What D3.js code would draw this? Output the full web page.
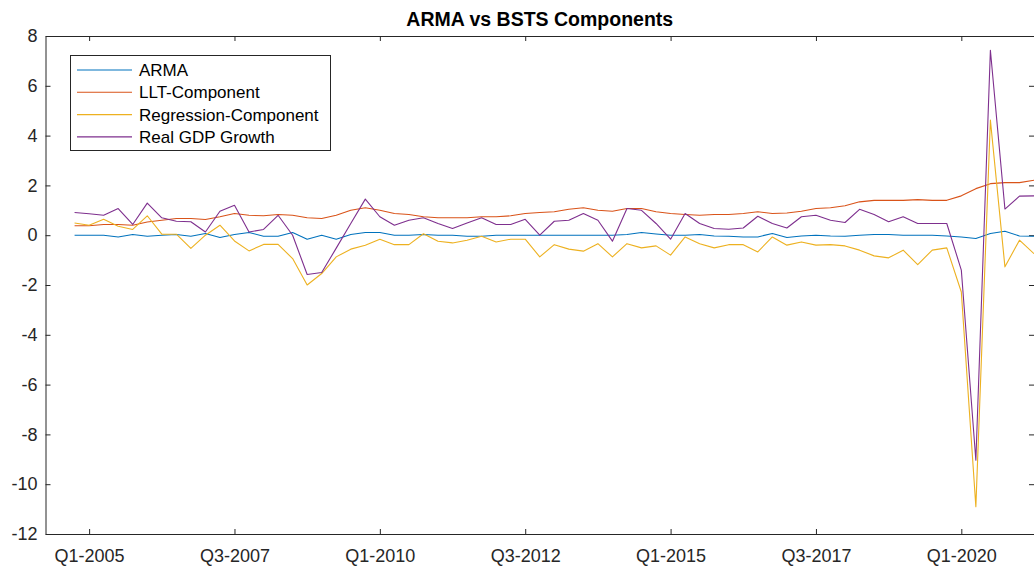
<!DOCTYPE html>
<html><head><meta charset="utf-8">
<script src="https://cdn.jsdelivr.net/npm/d3@7"></script>
<style>
html,body{margin:0;padding:0;background:#fff;}
svg{display:block;font-family:"Liberation Sans",Arial,Helvetica,sans-serif;}
</style></head>
<body><svg id="chart" width="1034" height="566"></svg>
<script>
// Quarters from Q4-2004 to Q2-2021 (index -1 .. 65 relative to Q1-2005)
const quarters = ["Q4-2004",
"Q1-2005","Q2-2005","Q3-2005","Q4-2005","Q1-2006","Q2-2006","Q3-2006","Q4-2006",
"Q1-2007","Q2-2007","Q3-2007","Q4-2007","Q1-2008","Q2-2008","Q3-2008","Q4-2008",
"Q1-2009","Q2-2009","Q3-2009","Q4-2009","Q1-2010","Q2-2010","Q3-2010","Q4-2010",
"Q1-2011","Q2-2011","Q3-2011","Q4-2011","Q1-2012","Q2-2012","Q3-2012","Q4-2012",
"Q1-2013","Q2-2013","Q3-2013","Q4-2013","Q1-2014","Q2-2014","Q3-2014","Q4-2014",
"Q1-2015","Q2-2015","Q3-2015","Q4-2015","Q1-2016","Q2-2016","Q3-2016","Q4-2016",
"Q1-2017","Q2-2017","Q3-2017","Q4-2017","Q1-2018","Q2-2018","Q3-2018","Q4-2018",
"Q1-2019","Q2-2019","Q3-2019","Q4-2019","Q1-2020","Q2-2020","Q3-2020","Q4-2020",
"Q1-2021","Q2-2021"];

const arma = [0.00,
0.00,0.00,-0.07,0.03,-0.04,0.00,0.03,-0.04,0.07,-0.09,0.03,0.11,-0.04,-0.04,0.11,-0.16,
0.00,-0.16,0.03,0.11,0.11,0.00,0.00,0.03,0.00,0.00,-0.04,-0.04,0.00,0.00,0.00,0.00,
0.00,0.00,0.00,0.00,0.00,0.03,0.11,0.05,0.00,0.00,0.03,-0.03,-0.04,-0.07,-0.07,0.07,
-0.09,-0.03,0.00,-0.03,-0.04,0.00,0.03,0.03,0.00,0.00,0.00,-0.03,-0.07,-0.13,0.07,0.16,
-0.03,-0.04];

const llt = [0.38,
0.38,0.43,0.43,0.40,0.53,0.60,0.67,0.67,0.63,0.74,0.87,0.80,0.78,0.83,0.80,0.70,
0.67,0.80,1.00,1.10,1.00,0.87,0.83,0.74,0.70,0.70,0.70,0.74,0.74,0.78,0.87,0.91,
0.94,1.04,1.10,1.00,0.96,1.07,1.07,0.94,0.87,0.83,0.80,0.83,0.83,0.87,0.94,0.87,
0.89,0.96,1.07,1.10,1.18,1.34,1.40,1.40,1.40,1.43,1.40,1.40,1.58,1.87,2.07,2.11,
2.11,2.21];

const regression = [0.49,
0.40,0.64,0.36,0.23,0.78,0.04,0.04,-0.53,0.00,0.40,-0.23,-0.63,-0.37,-0.37,-0.94,-2.00,
-1.54,-0.87,-0.56,-0.40,-0.16,-0.38,-0.38,0.06,-0.24,-0.31,-0.20,-0.04,-0.27,-0.16,-0.16,-0.87,
-0.38,-0.56,-0.64,-0.34,-0.87,-0.34,-0.51,-0.43,-0.80,-0.07,-0.34,-0.51,-0.38,-0.38,-0.67,-0.07,
-0.40,-0.27,-0.40,-0.38,-0.43,-0.60,-0.83,-0.91,-0.60,-1.18,-0.60,-0.51,-2.28,-10.9,4.62,-1.27,
-0.20,-0.74];

const gdp = [0.91,
0.86,0.80,1.07,0.43,1.29,0.70,0.56,0.54,0.13,0.96,1.20,0.13,0.23,0.80,0.00,-1.58,
-1.50,-0.52,0.47,1.45,0.74,0.40,0.60,0.70,0.47,0.27,0.49,0.70,0.43,0.43,0.64,0.00,
0.56,0.60,0.87,0.60,-0.24,1.07,1.00,0.47,-0.16,0.87,0.47,0.27,0.24,0.29,0.76,0.47,
0.29,0.74,0.80,0.60,0.51,1.04,0.83,0.54,0.74,0.47,0.47,0.47,-1.40,-9.04,7.43,1.05,
1.57,1.58];

const seriesNames = ["ARMA","LLT-Component","Regression-Component","Real GDP Growth"];
const seriesColors = ["#0072BD","#D95319","#EDB120","#7E2F8E"];
const xTickLabels = ["Q1-2005","Q3-2007","Q1-2010","Q3-2012","Q1-2015","Q3-2017","Q1-2020"];
const yTicks = [-12,-10,-8,-6,-4,-2,0,2,4,6,8];

const svg = d3.select("#chart");
const L = 45.5, R = 1034, T = 36, B = 534;
const axisColor = "#262626";

// x: index position relative to Q1-2005 (first category is index -1)
const xIndexStart = -1;
const x = d3.scaleLinear().domain([-3, 65]).range([L, R]);
const y = d3.scaleLinear().domain([-12, 8]).range([B, T]);

const xTickPos = xTickLabels.map(lbl => quarters.indexOf(lbl) + xIndexStart);

// axes
const fs = 18;
const gx = svg.append("g").attr("transform", `translate(0,${B})`)
  .call(d3.axisBottom(x).tickValues(xTickPos).tickSizeInner(-5).tickSizeOuter(0).tickPadding(15)
    .tickFormat((d, i) => xTickLabels[i]));
const gxTop = svg.append("g").attr("transform", `translate(0,${T})`)
  .call(d3.axisTop(x).tickValues(xTickPos).tickSizeInner(-5).tickSizeOuter(0).tickFormat(""));
const gy = svg.append("g").attr("transform", `translate(${L},0)`)
  .call(d3.axisLeft(y).tickValues(yTicks).tickSizeInner(-5).tickSizeOuter(0).tickPadding(8)
    .tickFormat(d => String(d)));
const gyR = svg.append("g").attr("transform", `translate(${R},0)`)
  .call(d3.axisRight(y).tickValues(yTicks).tickSizeInner(-5).tickSizeOuter(0).tickFormat(""));

[gx, gxTop, gy, gyR].forEach(g => {
  g.select(".domain").attr("stroke", axisColor).attr("stroke-width", 1);
  g.selectAll(".tick line").attr("stroke", axisColor).attr("stroke-width", 1);
  g.selectAll("text").attr("fill", axisColor).style("font-size", fs + "px")
    .style("font-family", '"Liberation Sans",Arial,sans-serif');
});

// lines
const allSeries = [arma, llt, regression, gdp];
const line = d3.line().x((d, i) => x(i + xIndexStart)).y(d => y(d));
allSeries.forEach((s, k) => {
  svg.append("path").datum(s).attr("d", line)
    .attr("fill", "none").attr("stroke", seriesColors[k]).attr("stroke-width", 1.1)
    .attr("stroke-linejoin", "round");
});

// title
svg.append("text").attr("x", (L + R) / 2).attr("y", 26).attr("text-anchor", "middle")
  .style("font-size", "19.5px").style("font-weight", "bold").attr("fill", "#000")
  .text("ARMA vs BSTS Components");

// legend
const lg = svg.append("g");
lg.append("rect").attr("x", 70.5).attr("y", 55.5).attr("width", 260).attr("height", 95)
  .attr("fill", "#fff").attr("stroke", axisColor).attr("stroke-width", 1);
seriesNames.forEach((nm, k) => {
  const yy = 70 + k * 22.3;
  lg.append("line").attr("x1", 77).attr("x2", 132).attr("y1", yy).attr("y2", yy)
    .attr("stroke", seriesColors[k]).attr("stroke-width", 1.1);
  lg.append("text").attr("x", 139).attr("y", yy).attr("dy", "0.35em")
    .style("font-size", "17px").attr("fill", "#000").text(nm);
});
</script></body></html>
